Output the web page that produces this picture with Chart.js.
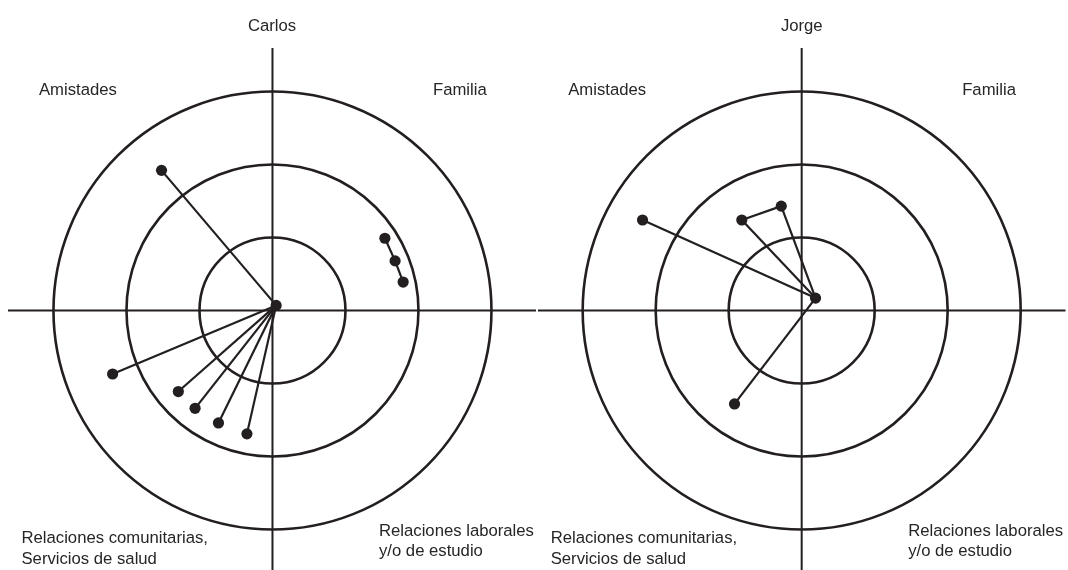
<!DOCTYPE html>
<html>
<head>
<meta charset="utf-8">
<script src="https://cdn.jsdelivr.net/npm/chart.js@4.4.0/dist/chart.umd.min.js"></script>
<style>
  body { margin: 0; background: #fff; }
  #wrap { position: relative; width: 1068px; height: 570px; overflow: hidden; background: #fff; }
  #wrap canvas { position: absolute; top: 0; }
</style>
</head>
<body>
<div id="wrap">
  <canvas id="chart-carlos" width="540" height="570" style="left:0;width:540px;height:570px"></canvas>
  <canvas id="chart-jorge" width="532" height="570" style="left:536px;width:532px;height:570px"></canvas>
</div>
<script>
// rings of the network map (inner = closest)
const RINGS = [1, 2, 3];

// quadrant labels: top-left, top-right, bottom-left, bottom-right
const QUADRANTS = [
  ["Amistades"],
  ["Familia"],
  ["Relaciones comunitarias,", "Servicios de salud"],
  ["Relaciones laborales", "y/o de estudio"]
];

// Carlos: node 0 is Carlos himself
const carlosX = [0.05, -1.52, 1.54, 1.68, 1.79, -2.19, -1.29, -1.06, -0.74, -0.35];
const carlosY = [0.07, 1.92, 0.99, 0.68, 0.39, -0.87, -1.11, -1.34, -1.54, -1.69];
const carlosEdges = [[0, 1], [2, 3], [3, 4], [0, 5], [0, 6], [0, 7], [0, 8], [0, 9]];

// Jorge: node 0 is Jorge himself
const jorgeX = [0.19, -2.18, -0.82, -0.28, -0.92];
const jorgeY = [0.17, 1.24, 1.24, 1.43, -1.28];
const jorgeEdges = [[0, 1], [0, 2], [0, 3], [2, 3], [0, 4]];

const INK = '#231f20';
const FONT = '"Liberation Sans", Arial, sans-serif';

const mapPlugin = {
  id: 'netmap',
  beforeDatasetsDraw(chart) {
    const { ctx, chartArea: a, scales: { x, y } } = chart;
    const cx = x.getPixelForValue(0), cy = y.getPixelForValue(0);
    ctx.save();
    ctx.strokeStyle = INK;
    // the two axes splitting the quadrants
    ctx.lineWidth = 2;
    ctx.beginPath();
    ctx.moveTo(a.left, cy); ctx.lineTo(a.right, cy);
    ctx.moveTo(cx, a.top); ctx.lineTo(cx, a.bottom);
    ctx.stroke();
    // concentric rings
    ctx.lineWidth = 2.6;
    RINGS.forEach(r => {
      const rx = x.getPixelForValue(r) - cx;
      const ry = cy - y.getPixelForValue(r);
      ctx.beginPath();
      ctx.ellipse(cx, cy, rx, ry, 0, 0, Math.PI * 2);
      ctx.stroke();
    });
    ctx.restore();
  },
  afterDraw(chart, args, opts) {
    const { ctx, scales: { x, y } } = chart;
    const cx = x.getPixelForValue(0), cy = y.getPixelForValue(0);
    ctx.save();
    ctx.fillStyle = '#262626';
    ctx.font = '16.7px ' + FONT;
    ctx.textBaseline = 'alphabetic';
    ctx.textAlign = 'left';
    QUADRANTS.forEach((lines, i) => {
      const o = opts.offsets[i];
      lines.forEach((t, j) => ctx.fillText(t, cx + o[0], cy + o[1] + j * 20.5));
    });
    ctx.restore();
  }
};

function makeMap(id, name, xs, ys, edges, xmin, xmax, pad) {
  const nodes = xs.map((v, i) => ({ x: v, y: ys[i] }));
  const datasets = [{
    data: nodes,
    pointRadius: 5.6,
    pointBackgroundColor: INK,
    pointBorderWidth: 0,
    showLine: false,
    clip: false,
    order: 0
  }];
  edges.forEach(e => {
    datasets.push({
      data: [nodes[e[0]], nodes[e[1]]],
      showLine: true,
      borderColor: INK,
      borderWidth: 2.2,
      pointRadius: 0,
      order: 1
    });
  });

  new Chart(document.getElementById(id), {
    type: 'scatter',
    data: { datasets },
    options: {
      responsive: false,
      animation: false,
      events: [],
      layout: { padding: pad, autoPadding: false },
      plugins: {
        legend: { display: false },
        tooltip: { enabled: false },
        title: {
          display: true,
          text: name,
          color: '#262626',
          font: { family: FONT, size: 16.7, weight: 'normal' },
          padding: { top: 16, bottom: 12 }
        },
        netmap: {
          offsets: [[-233.5, -215.5], [160.5, -215.5], [-251, 232.5], [106.5, 225]]
        }
      },
      scales: {
        x: { display: false, min: xmin, max: xmax },
        y: { display: false, min: -3.555, max: 3.596 }
      }
    },
    plugins: [mapPlugin]
  });
}

makeMap('chart-carlos', 'Carlos', carlosX, carlosY, carlosEdges, -3.623, 3.61, { left: 8, right: 4, top: 0, bottom: 0 });
makeMap('chart-jorge', 'Jorge', jorgeX, jorgeY, jorgeEdges, -3.612, 3.614, { left: 2, right: 2.5, top: 0, bottom: 0 });
</script>
</body>
</html>
